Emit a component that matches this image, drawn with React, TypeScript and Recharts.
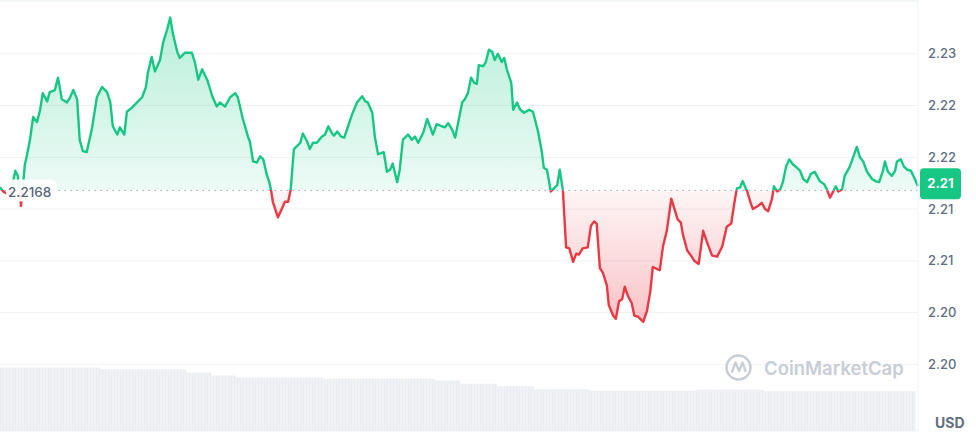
import { ComposedChart, Area, XAxis, YAxis, CartesianGrid, ReferenceLine } from "recharts";

// minutes since the start of the 24h window
const TIMES = [
  0, 5, 16, 24, 28, 33, 39, 42, 47, 52, 58, 63, 67, 74, 78, 86, 91, 97, 105, 110,
  115, 121, 125, 130, 136, 144, 152, 160, 168, 173, 177, 184, 188, 195, 199, 207, 215, 223, 229, 232,
  238, 243, 251, 256, 262, 267, 271, 278, 282, 290, 301, 306, 311, 317, 325, 333, 340, 345, 353, 361,
  369, 373, 381, 389, 392, 397, 403, 408, 413, 419, 422, 425, 428, 436, 442, 447, 452, 456, 461, 471,
  475, 482, 486, 491, 497, 505, 510, 515, 521, 524, 529, 535, 540, 546, 552, 560, 568, 573, 577, 584,
  588, 593, 598, 602, 607, 612, 616, 623, 627, 632, 640, 646, 651, 656, 664, 670, 675, 679, 685, 693,
  698, 703, 709, 714, 725, 729, 734, 739, 744, 748, 751, 758, 762, 767, 772, 776, 781, 787, 791, 795,
  802, 805, 811, 816, 822, 830, 836, 839, 844, 850, 853, 858, 864, 869, 874, 878, 883, 888, 893, 899,
  904, 908, 914, 922, 927, 932, 936, 941, 946, 952, 955, 962, 966, 971, 976, 980, 985, 991, 995, 1001,
  1009, 1015, 1020, 1024, 1031, 1035, 1040, 1046, 1053, 1059, 1063, 1068, 1071, 1078, 1084, 1089, 1096, 1103, 1109, 1117,
  1125, 1133, 1140, 1147, 1153, 1156, 1161, 1165, 1172, 1178, 1181, 1189, 1195, 1200, 1205, 1211, 1214, 1219, 1224, 1228,
  1233, 1238, 1244, 1250, 1255, 1260, 1266, 1272, 1278, 1286, 1293, 1297, 1302, 1307, 1311, 1315, 1321, 1325, 1333, 1340,
  1344, 1349, 1354, 1360, 1368, 1373, 1379, 1385, 1388, 1393, 1399, 1404, 1407, 1413, 1418, 1423, 1429, 1435, 1440,
];

const PRICES = [
  2.2171, 2.2167, 2.2163, 2.2187, 2.2182, 2.2153, 2.2193, 2.2201, 2.2217, 2.2239, 2.2234, 2.2246, 2.2262, 2.2254, 2.2263, 2.2265, 2.2277, 2.2256, 2.2253, 2.2258,
  2.2265, 2.2256, 2.2217, 2.2206, 2.2205, 2.2227, 2.2258, 2.2268, 2.2263, 2.2253, 2.223, 2.2222, 2.2229, 2.2222, 2.2244, 2.2248, 2.2253, 2.2258, 2.2268, 2.2282,
  2.2297, 2.2283, 2.2294, 2.2311, 2.2323, 2.2335, 2.232, 2.2302, 2.2296, 2.2301, 2.2301, 2.2291, 2.2275, 2.2285, 2.2275, 2.2259, 2.2249, 2.2253, 2.2249, 2.2258,
  2.2262, 2.2258, 2.2237, 2.222, 2.2215, 2.2196, 2.2195, 2.2201, 2.2198, 2.2182, 2.2177, 2.2169, 2.2157, 2.2142, 2.215, 2.2157, 2.2157, 2.2169, 2.2208, 2.2214,
  2.2223, 2.2215, 2.2208, 2.2214, 2.2214, 2.222, 2.2222, 2.223, 2.2223, 2.2221, 2.2225, 2.222, 2.2219, 2.223, 2.2241, 2.2253, 2.2259, 2.2254, 2.2253, 2.2243,
  2.222, 2.2203, 2.2204, 2.2205, 2.2186, 2.2188, 2.2194, 2.2176, 2.2188, 2.2217, 2.2222, 2.2217, 2.222, 2.2214, 2.2224, 2.2237, 2.2229, 2.2222, 2.2232, 2.223,
  2.2229, 2.2233, 2.2227, 2.2219, 2.2253, 2.2256, 2.2262, 2.2277, 2.2272, 2.2271, 2.2289, 2.2288, 2.2292, 2.2304, 2.2302, 2.2294, 2.23, 2.2292, 2.2296, 2.2285,
  2.2272, 2.2246, 2.2253, 2.2246, 2.2243, 2.2246, 2.2244, 2.2237, 2.2225, 2.2205, 2.219, 2.2188, 2.2167, 2.217, 2.2173, 2.2188, 2.2168, 2.2113, 2.2112, 2.2099,
  2.2107, 2.2106, 2.2112, 2.2113, 2.2134, 2.2138, 2.2136, 2.2093, 2.2088, 2.2076, 2.2057, 2.2047, 2.2044, 2.2061, 2.2063, 2.2075, 2.2066, 2.2059, 2.2047, 2.2046,
  2.2041, 2.2052, 2.207, 2.2094, 2.2092, 2.2091, 2.2114, 2.2129, 2.216, 2.2148, 2.214, 2.2137, 2.2126, 2.211, 2.2105, 2.21, 2.2097, 2.2129, 2.2118, 2.2105,
  2.2104, 2.2114, 2.2133, 2.2136, 2.216, 2.217, 2.2171, 2.2177, 2.2167, 2.2155, 2.215, 2.2153, 2.2156, 2.215, 2.2148, 2.216, 2.2172, 2.2167, 2.2169, 2.2176,
  2.2191, 2.2198, 2.2193, 2.219, 2.2187, 2.2179, 2.2176, 2.2184, 2.2186, 2.2177, 2.2174, 2.2169, 2.2161, 2.2167, 2.2172, 2.2167, 2.2169, 2.2182, 2.2191, 2.2203,
  2.221, 2.22, 2.2196, 2.2186, 2.2179, 2.2177, 2.2176, 2.2187, 2.2196, 2.2186, 2.2182, 2.2187, 2.2196, 2.2198, 2.2191, 2.2188, 2.2187, 2.2179, 2.2172,
];

// volume (millions), step profile
const VOL_TIMES = [0, 157, 292, 331, 370, 507, 682, 722, 780, 838, 925, 1092, 1198, 1436];
const VOLUMES = [4.43, 4.3, 4.09, 3.88, 3.74, 3.64, 3.53, 3.29, 3.12, 2.91, 2.81, 2.88, 2.77, 2.77];

const BASE = 2.2168;
const Y_TICKS = [2.2, 2.205, 2.21, 2.215, 2.22, 2.225, 2.23];
const Y_DOMAIN: [number, number] = [2.19356, 2.2351];

const GREEN = "#16c784";
const RED = "#ea3943";
const GREY_TEXT = "#616e85";
const FONT = "Inter, 'Noto Sans', sans-serif";

const fmt = (v: number) => (Math.floor(v * 100 + 1e-6) / 100).toFixed(2);

const priceMap = new Map(TIMES.map((t, i) => [t, PRICES[i]]));
const volMap = new Map(VOL_TIMES.map((t, i) => [t, VOLUMES[i]]));
const rows = Array.from(new Set([...TIMES, ...VOL_TIMES]))
  .sort((a, b) => a - b)
  .map((t) => ({ t, price: priceMap.get(t) ?? null, vol: volMap.get(t) ?? null }));

const maxP = Math.max(...PRICES);
const minP = Math.min(...PRICES);
const off = (maxP - BASE) / (maxP - minP);
const LAST = PRICES[PRICES.length - 1];

function BaseLabel(props: { viewBox?: { x?: number; y?: number } }) {
  const vx = props.viewBox?.x ?? 0;
  const vy = props.viewBox?.y ?? 0;
  return (
    <g>
      <rect x={vx + 6} y={vy - 11} width={51} height={22} rx={6} fill="#ffffff" fillOpacity={0.92} />
      <text x={vx + 8} y={vy + 7} fontSize={13.5} fontFamily={FONT} fontWeight={500} fill="#58667e">
        {BASE}
      </text>
    </g>
  );
}

function LastBadge(props: { viewBox?: { x?: number; y?: number; width?: number } }) {
  const vx = props.viewBox?.x ?? 0;
  const vy = props.viewBox?.y ?? 0;
  const vw = props.viewBox?.width ?? 0;
  const bx = vx + vw + 2;
  return (
    <g>
      <rect x={bx} y={vy - 18} width={41} height={31} rx={4} fill={GREEN} />
      <text x={bx + 20.5} y={vy + 2} textAnchor="middle" fontSize={13} fontWeight={700} fontFamily={FONT} fill="#ffffff">
        {fmt(LAST)}
      </text>
    </g>
  );
}

function PriceTick(props: { x?: number; y?: number; payload?: { value: number } }) {
  return (
    <text x={props.x} y={(props.y ?? 0) + 4.5} fontSize={13} fontWeight={500} fontFamily={FONT} fill={GREY_TEXT}>
      {fmt(props.payload?.value ?? 0)}
    </text>
  );
}

export default function App() {
  return (
    <div style={{ position: "relative", width: 976, height: 435, background: "#fff", overflow: "hidden" }}>
      <style>{"body{margin:0}"}</style>
      <ComposedChart width={976} height={435} data={rows} margin={{ top: 1, right: 0, bottom: 4, left: 0 }}>
        <defs>
          <linearGradient id="priceStroke" x1="0" y1="0" x2="0" y2="1">
            <stop offset={off} stopColor={GREEN} />
            <stop offset={off} stopColor={RED} />
          </linearGradient>
          <linearGradient id="priceFill" x1="0" y1="0" x2="0" y2="1">
            <stop offset={0} stopColor={GREEN} stopOpacity={0.3} />
            <stop offset={off} stopColor={GREEN} stopOpacity={0.08} />
            <stop offset={off} stopColor={RED} stopOpacity={0.05} />
            <stop offset={1} stopColor={RED} stopOpacity={0.3} />
          </linearGradient>
          <pattern id="volPattern" width={3} height={10} patternUnits="userSpaceOnUse">
            <rect width={3} height={10} fill="#eff1f5" />
            <rect width={1} height={10} fill="#e9ecf1" />
          </pattern>
        </defs>
        <XAxis dataKey="t" type="number" domain={[0, 1440]} hide />
        <YAxis yAxisId="vol" hide domain={[0, 30]} />
        <YAxis
          yAxisId="price"
          orientation="right"
          width={58}
          domain={Y_DOMAIN}
          ticks={Y_TICKS}
          allowDataOverflow
          tickLine={false}
          tickSize={0}
          tickMargin={10}
          axisLine={{ stroke: "#eff2f5" }}
          tick={<PriceTick />}
        />
        <CartesianGrid yAxisId="price" vertical={false} stroke="#eff2f5" />
        <Area
          yAxisId="vol"
          dataKey="vol"
          type="stepAfter"
          stroke="none"
          fill="url(#volPattern)"
          fillOpacity={1}
          connectNulls
          isAnimationActive={false}
        />
        <ReferenceLine yAxisId="price" y={Y_DOMAIN[1]} stroke="#eff2f5" />
        <Area
          yAxisId="price"
          dataKey="price"
          type="linear"
          baseValue={BASE}
          stroke="url(#priceStroke)"
          strokeWidth={2.4}
          strokeLinejoin="round"
          fill="url(#priceFill)"
          fillOpacity={1}
          connectNulls
          dot={false}
          activeDot={false}
          isAnimationActive={false}
        />
        <ReferenceLine
          yAxisId="price"
          y={BASE}
          stroke="#a1a7bb"
          strokeDasharray="1.5 4.5"
          label={BaseLabel}
        />
        <ReferenceLine yAxisId="price" y={LAST} stroke="none" label={LastBadge} />
      </ComposedChart>
      <svg width={30} height={30} style={{ position: "absolute", left: 724, top: 353 }}>
        <circle cx={14.5} cy={14.5} r={12} fill="none" stroke="#c8ced8" strokeWidth={2.5} />
        <path d="M8 19 L11.5 9.5 L15 18 L18.5 9.5 L21.5 18" fill="none" stroke="#c8ced8" strokeWidth={2.3} strokeLinejoin="round" strokeLinecap="round" />
      </svg>
      <div
        style={{
          position: "absolute",
          left: 764,
          top: 356,
          fontFamily: FONT,
          fontSize: 18.5,
          fontWeight: 600,
          color: "#c8ced8",
          lineHeight: "24px",
        }}
      >
        CoinMarketCap
      </div>
      <div
        style={{
          position: "absolute",
          left: 935,
          top: 413,
          fontFamily: FONT,
          fontSize: 14,
          fontWeight: 700,
          color: GREY_TEXT,
          lineHeight: "20px",
        }}
      >
        USD
      </div>
    </div>
  );
}
